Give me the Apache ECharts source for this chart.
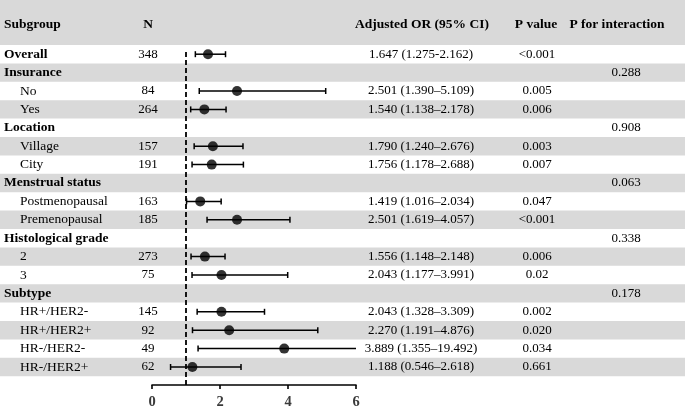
<!DOCTYPE html>
<html>
<head>
<meta charset="utf-8">
<script src="https://cdn.jsdelivr.net/npm/echarts@6/dist/echarts.min.js"></script>
<style>html,body{margin:0;padding:0;background:#fff}#c{width:685px;height:409px}</style>
</head>
<body>
<div id="c"></div>
<script>
const labels = ['Overall','Insurance','No','Yes','Location','Village','City','Menstrual status','Postmenopausal','Premenopausal','Histological grade','2','3','Subtype','HR+/HER2-','HR+/HER2+','HR-/HER2-','HR-/HER2+'];
const isGroup = [1,1,0,0,1,0,0,1,0,0,1,0,0,1,0,0,0,0];
const nVals = ['348','','84','264','','157','191','','163','185','','273','75','','145','92','49','62'];
const orVals = [1.647,null,2.501,1.540,null,1.790,1.756,null,1.419,2.501,null,1.556,2.043,null,2.043,2.270,3.889,1.188];
const loVals = [1.275,null,1.390,1.138,null,1.240,1.178,null,1.016,1.619,null,1.148,1.177,null,1.328,1.191,1.355,0.546];
const hiVals = [2.162,null,5.109,2.178,null,2.676,2.688,null,2.034,4.057,null,2.148,3.991,null,3.309,4.876,19.492,2.618];
const ciSep = ['-','','–','–','','–','–','','–','–','','–','–','','–','–','–','–'];
const pVals = ['<0.001','','0.005','0.006','','0.003','0.007','','0.047','<0.001','','0.006','0.02','','0.002','0.020','0.034','0.661'];
const pInter = ['','0.288','','','0.908','','','0.063','','','0.338','','','0.178','','','',''];
const headers = ['Subgroup','N','Adjusted OR (95% CI)','P value','P for interaction'];
const xTicks = [0,2,4,6];

const FONT = 'Liberation Serif';
const GRAY = '#d9d9d9';
const TXT = '#000';
const YMAX = -0.5 + 340/18.4;
const XMAX = xTicks[xTicks.length-1];

const ciText = orVals.map((v,i)=> v==null ? '' : v.toFixed(3)+' ('+loVals[i].toFixed(3)+ciSep[i]+hiVals[i].toFixed(3)+')');

const rowIdx = labels.map((_,i)=>i);
const chart = echarts.init(document.getElementById('c'));
chart.setOption({
  animation:false,
  backgroundColor:'#fff',
  grid:{left:152, right:329, top:45, bottom:24, containLabel:false, outerBoundsMode:'none'},
  xAxis:{type:'value', position:'bottom', min:xTicks[0], max:XMAX, interval:2,
    axisLine:{show:true, onZero:false, lineStyle:{color:'#000', width:1.6}},
    axisTick:{show:true, inside:false, length:4, lineStyle:{color:'#000', width:1.6}},
    axisLabel:{color:'#3a3a3a', fontFamily:FONT, fontWeight:'bold', fontSize:14.5, margin:10},
    splitLine:{show:false}},
  yAxis:{type:'value', inverse:true, min:-0.5, max:YMAX, show:false},
  graphic:[
    {type:'rect', shape:{x:0,y:0,width:685,height:45}, style:{fill:GRAY}, z:0},
    {type:'text', x:4, y:25, style:{text:headers[0], font:'bold 13.5px "'+FONT+'"', fill:TXT, textVerticalAlign:'middle', textAlign:'left'}, z:5},
    {type:'text', x:148, y:25, style:{text:headers[1], font:'bold 13.5px "'+FONT+'"', fill:TXT, textVerticalAlign:'middle', textAlign:'center'}, z:5},
    {type:'text', x:422, y:25, style:{text:headers[2], font:'bold 13.5px "'+FONT+'"', fill:TXT, textVerticalAlign:'middle', textAlign:'center'}, z:5},
    {type:'text', x:536, y:25, style:{text:headers[3], font:'bold 13.5px "'+FONT+'"', fill:TXT, textVerticalAlign:'middle', textAlign:'center'}, z:5},
    {type:'text', x:617, y:25, style:{text:headers[4], font:'bold 13.5px "'+FONT+'"', fill:TXT, textVerticalAlign:'middle', textAlign:'center'}, z:5}
  ],
  series:[
    {type:'custom', z:1, silent:true, clip:false,
      data: rowIdx.map(i=>[0,i]),
      renderItem:function(params, api){
        const i = api.value(1);
        if (i % 2 === 0) return null;
        const top = api.coord([0, i-0.5])[1];
        const bot = api.coord([0, i+0.5])[1];
        return {type:'rect', shape:{x:0, y:top, width:api.getWidth(), height:bot-top}, style:{fill:GRAY}};
      }},
    {type:'custom', z:5, silent:true, clip:false,
      data: rowIdx.map(i=>[0,i]),
      renderItem:function(params, api){
        const i = api.value(1);
        const y = api.coord([0,i])[1];
        const mk = (x, t, align, font)=>({type:'text', x:x, y:y, style:{text:t, font:font, fill:TXT, textAlign:align, textVerticalAlign:'middle'}});
        const lf = isGroup[i] ? 'bold 13.5px "'+FONT+'"' : '13.5px "'+FONT+'"';
        const nf = '13px "'+FONT+'"';
        return {type:'group', children:[
          mk(isGroup[i]?4:20, labels[i], 'left', lf),
          mk(148, nVals[i], 'center', nf),
          mk(421, ciText[i], 'center', nf),
          mk(537, pVals[i], 'center', nf),
          mk(626, pInter[i], 'center', nf)
        ]};
      }},
    {type:'custom', z:3, silent:true, clip:false,
      data: rowIdx.filter(i=>orVals[i]!=null).map(i=>[loVals[i], hiVals[i], i]),
      renderItem:function(params, api){
        const lo = api.value(0), hi = api.value(1), i = api.value(2);
        const p1 = api.coord([lo, i]);
        const p2 = api.coord([Math.min(hi, XMAX), i]);
        const st = {stroke:'#000', lineWidth:1.5};
        const ch = [
          {type:'line', shape:{x1:p1[0], y1:p1[1], x2:p2[0], y2:p2[1]}, style:st},
          {type:'line', shape:{x1:p1[0], y1:p1[1]-3, x2:p1[0], y2:p1[1]+3}, style:st}
        ];
        if (hi <= XMAX) ch.push({type:'line', shape:{x1:p2[0], y1:p2[1]-3, x2:p2[0], y2:p2[1]+3}, style:st});
        return {type:'group', children:ch};
      }},
    {type:'scatter', z:4, silent:true,
      data: rowIdx.filter(i=>orVals[i]!=null).map(i=>[orVals[i], i]),
      symbol:'circle', symbolSize:10, itemStyle:{color:'#000'},
      markLine:{silent:true, symbol:'none', label:{show:false},
        lineStyle:{color:'#000', type:[5,3], width:1.8},
        data:[[{coord:[1,-0.12]},{coord:[1,YMAX]}]]}}
  ]
});
</script>
</body>
</html>
